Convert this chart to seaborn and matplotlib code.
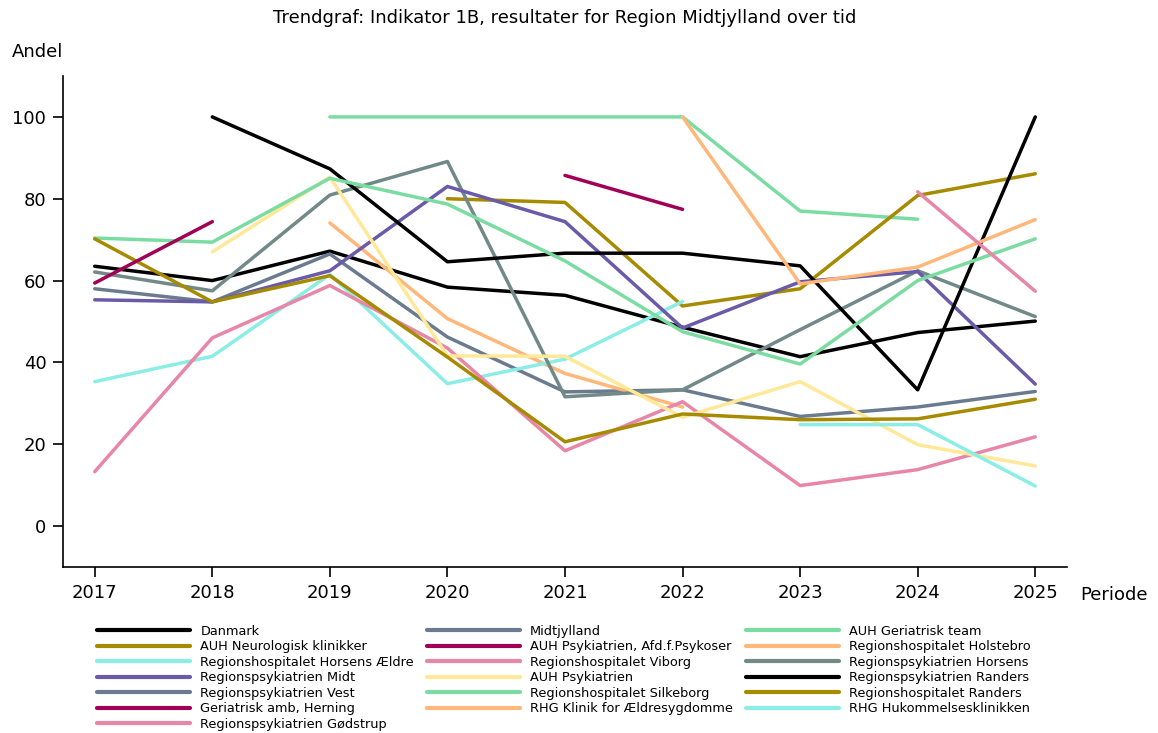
import numpy as np
import pandas as pd
import matplotlib
matplotlib.use("Agg")
import matplotlib.pyplot as plt
from matplotlib.lines import Line2D
import seaborn as sns

nan = np.nan
years = [2017, 2018, 2019, 2020, 2021, 2022, 2023, 2024, 2025]

names = [
    "Danmark", "Midtjylland", "AUH Geriatrisk team",
    "AUH Neurologisk klinikker", "AUH Psykiatrien, Afd.f.Psykoser", "Regionshospitalet Holstebro",
    "Regionshospitalet Horsens Ældre", "Regionshospitalet Viborg", "Regionspsykiatrien Horsens",
    "Regionspsykiatrien Midt", "AUH Psykiatrien", "Regionspsykiatrien Randers",
    "Regionspsykiatrien Vest", "Regionshospitalet Silkeborg", "Regionshospitalet Randers",
    "Geriatrisk amb, Herning", "RHG Klinik for Ældresygdomme", "RHG Hukommelsesklinikken",
    "Regionspsykiatrien Gødstrup",
]

danmark = [63.5, 60.0, 67.2, 58.4, 56.4, 48.6, 41.4, 47.3, 50.1]
midtjylland = [58.0, 54.8, 66.5, 46.2, 32.8, 33.3, 26.8, 29.1, 32.9]
auh_geriatrisk = [nan, nan, 100, 100, 100, 100, 77.0, 75.0, nan]
auh_neuro = [nan, nan, nan, 80.0, 79.1, 53.8, 58.0, 80.8, 86.1]
auh_psyk_afd = [nan, nan, nan, nan, 85.7, 77.4, nan, nan, nan]
rh_holstebro = [nan, nan, 74.1, 50.7, 37.3, 29.1, nan, nan, nan]
rh_horsens_aeldre = [35.3, 41.5, 61.5, 34.8, 40.8, 54.9, nan, nan, nan]
rh_viborg = [13.3, 46.0, 58.8, 43.5, 18.4, 30.4, 9.9, 13.8, 21.8]
rp_horsens = [62.1, 57.5, 80.9, 89.1, 31.6, 33.3, 48.0, 62.4, 51.2]
rp_midt = [55.3, 54.8, 62.4, 83.0, 74.4, 48.4, 59.7, 62.2, 34.7]
auh_psyk = [nan, 67.0, 85.3, 41.6, 41.5, 26.6, 35.3, 19.9, 14.7]
rp_randers = [nan, 100, 87.3, 64.6, 66.7, 66.7, 63.6, 33.3, 100]
rp_vest = [nan, nan, nan, nan, nan, nan, nan, nan, nan]
rh_silkeborg = [70.4, 69.4, 85.0, 78.7, 64.8, 47.5, 39.6, 60.0, 70.2]
rh_randers = [70.2, 54.8, 61.2, 41.3, 20.6, 27.4, 26.0, 26.2, 31.0]
ger_herning = [59.4, 74.4, nan, nan, nan, nan, nan, nan, nan]
rhg_klinik = [nan, nan, nan, nan, nan, 100, 59.2, 63.3, 74.9]
rhg_hukommelse = [nan, nan, nan, nan, nan, nan, 24.8, 24.8, 9.8]
rp_godstrup = [nan, nan, nan, nan, nan, nan, nan, 81.7, 57.4]

series = [danmark, midtjylland, auh_geriatrisk, auh_neuro, auh_psyk_afd, rh_holstebro,
          rh_horsens_aeldre, rh_viborg, rp_horsens, rp_midt, auh_psyk, rp_randers,
          rp_vest, rh_silkeborg, rh_randers, ger_herning, rhg_klinik, rhg_hukommelse,
          rp_godstrup]

base_colors = ["#000000", "#6b7b8f", "#7bdca2", "#a68a00", "#a10057", "#ffb77a",
               "#8beee6", "#e886a8", "#718a87", "#6a5ba8", "#ffe897"]
colors = [base_colors[i % len(base_colors)] for i in range(len(names))]

sns.set_style("ticks", {"axes.edgecolor": "black", "text.color": "black",
                        "xtick.color": "black", "ytick.color": "black",
                        "axes.labelcolor": "black"})
plt.rcParams['font.family'] = ['DejaVu Sans']

fig = plt.figure(figsize=(11.58, 7.33), dpi=100)
ax = fig.add_axes([63 / 1158, 1 - 567 / 733, (1067 - 63) / 1158, (567 - 76) / 733])

LW = 2.5
for name, vals, col in zip(names, series, colors):
    df = pd.DataFrame({"Periode": years, "Andel": vals}).dropna()
    if len(df) == 0:
        continue
    sns.lineplot(data=df, x="Periode", y="Andel", ax=ax, color=col, linewidth=LW,
                 legend=False, estimator=None)

ax.set_xlim(2016.73, 2025.27)
ax.set_ylim(-10, 110)
ax.set_xticks(years)
ax.set_xticklabels([str(y) for y in years])
ax.set_yticks([0, 20, 40, 60, 80, 100])
ax.set_xlabel("")
ax.set_ylabel("")
for s in ["top", "right"]:
    ax.spines[s].set_visible(False)
for s in ["left", "bottom"]:
    ax.spines[s].set_linewidth(1.2)
    ax.spines[s].set_color("black")
ax.tick_params(axis="both", which="major", length=7, width=1.2, labelsize=13, pad=5,
               colors="black")

fig.text(565 / 1158, 1 - 18 / 733, "Trendgraf: Indikator 1B, resultater for Region Midtjylland over tid",
         ha="center", va="center", fontsize=13, color="black")
fig.text(12 / 1158, 1 - 52 / 733, "Andel", ha="left", va="center", fontsize=13, color="black")
fig.text(1080 / 1158, 1 - 595 / 733, "Periode", ha="left", va="center", fontsize=13, color="black")

handles = [Line2D([0], [0], color=c, lw=3) for c in colors]
ncol = 3
order = [i for c in range(ncol) for i in range(c, len(names), ncol)]
leg = fig.legend([handles[i] for i in order], [names[i] for i in order],
                 loc="upper left", bbox_to_anchor=(97 / 1158, 1 - 625 / 733),
                 ncol=ncol, frameon=False, fontsize=9.3, handlelength=7.2,
                 handletextpad=0.8, columnspacing=1.0, labelspacing=0.19,
                 borderpad=0, borderaxespad=0)
for t in leg.get_texts():
    t.set_color("black")

fig.savefig("out.png", dpi=100)
